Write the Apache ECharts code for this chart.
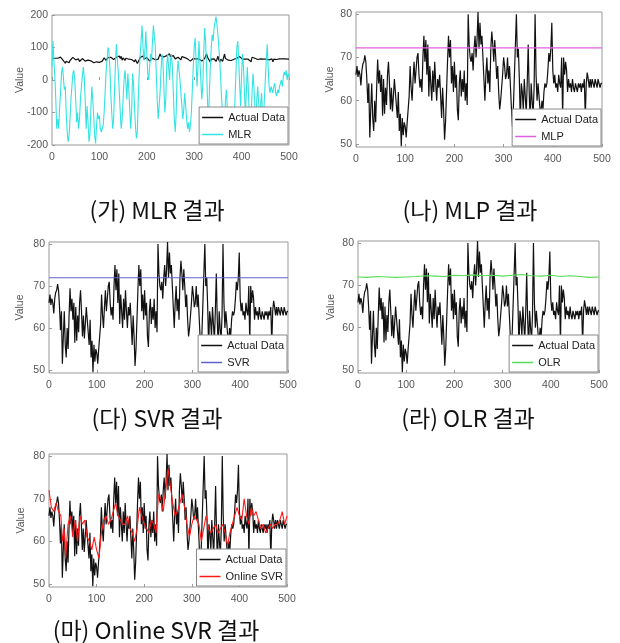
<!DOCTYPE html>
<html><head><meta charset="utf-8">
<script src="https://cdn.jsdelivr.net/npm/echarts@6/dist/echarts.min.js"></script>
<style>html,body{margin:0;padding:0;background:#fff}#c{width:620px;height:643px}</style>
</head><body><div id="c"></div>
<script>
// Actual data (x, value)
const actualData = [[0,66],[2,68],[4,65.5],[6,67],[8,66],[10,63.5],[12,67],[14,68.5],[16,69],[18,70.5],[20,69],[22,65],[24,59.5],[26,64],[28,51.5],[30,58],[32,64],[34,56],[36,53],[38,60],[40,55],[42,63],[44,69.5],[46,64],[48,67],[50,62],[52,66],[54,56.5],[56,65],[58,57],[60,63],[62,59],[64,66],[66,69],[68,64],[70,58],[72,63],[74,57.5],[76,61],[78,65],[80,62],[82,59],[84,56],[86,62],[88,53],[90,57],[92,49.5],[94,56],[96,52],[98,55],[100,54],[102,51.5],[104,55],[106,58],[108,61],[110,68],[112,63],[114,60],[116,65],[118,69],[120,64],[122,67],[124,70],[126,71],[128,66],[130,63],[132,65],[134,62],[136,70],[138,75],[140,69],[142,74],[144,66],[146,73],[148,61],[150,68],[152,64],[154,60],[156,67],[158,62],[160,69],[162,64],[164,60],[166,65],[168,63],[170,66],[172,61],[174,56],[176,63],[178,58],[180,51],[182,55],[184,62],[186,69],[188,75],[190,70],[192,74],[194,64],[196,68],[198,62],[200,69],[202,63],[204,66],[206,58],[208,55.5],[210,64],[212,67],[214,61],[216,65],[218,62],[220,67],[222,60],[224,64],[226,59],[228,80],[230,73],[232,70],[234,69],[236,71],[238,67],[240,72],[242,75],[244,70],[246,74],[248,80.5],[250,72],[252,78],[254,73],[256,75],[258,70],[260,65],[262,60],[264,66],[266,70],[268,64],[270,67],[272,62],[274,72],[276,76],[278,73],[280,69],[282,74],[284,70],[286,65],[288,68],[290,62],[292,58],[294,60],[296,63],[298,66],[300,70],[302,68],[304,65],[306,66],[308,70],[310,65],[312,68],[314,63],[316,58],[318,54],[320,59],[322,66],[324,73],[326,80],[328,70],[330,72],[332,65],[334,55],[336,64],[338,62],[340,58],[342,65],[344,61],[346,57],[348,64],[350,73],[352,62],[354,55],[356,64],[358,60],[360,57],[362,63],[364,80],[366,66],[368,60],[370,64],[372,61],[374,58],[376,57.5],[378,60],[380,58],[382,62],[384,64],[386,63],[388,64],[390,67],[392,71],[394,69],[396,72],[398,78],[400,67],[402,64],[404,66],[406,63],[408,64],[410,62],[412,66],[414,64],[416,63],[418,70],[420,56],[422,70],[424,66],[426,69],[428,67],[430,62],[432,65],[434,63],[436,64],[438,62],[440,65],[442,63],[444,62],[446,64],[448,63],[450,62],[452,64],[454,63],[456,64],[458,62],[460,64],[462,63],[464,65],[466,56],[468,64],[470,66.5],[472,65],[474,63],[476,65],[478,63],[480,65],[482,64],[484,63],[486,65],[488,64],[490,63],[492,65],[494,64],[496,63],[498,64],[500,64]];

const mlrData = [[0,40],[2,120],[4,60],[6,10],[8,-60],[10,-150],[12,-120],[14,-150],[16,-90],[18,-40],[20,20],[22,40],[24,10],[26,-30],[28,-20],[30,-100],[32,-160],[34,-190],[36,-170],[38,-120],[40,-60],[42,-20],[44,20],[46,30],[48,0],[50,-60],[52,-130],[54,-100],[56,-150],[58,-120],[60,-60],[62,-20],[64,10],[66,40],[68,10],[70,-60],[72,-150],[74,-80],[76,-130],[78,-190],[80,-170],[82,-90],[84,-20],[86,-60],[88,-110],[90,-170],[92,-195],[94,-140],[96,-100],[98,-120],[100,-110],[102,-150],[104,-160],[106,-165],[108,-140],[110,-100],[112,-40],[114,20],[116,60],[118,100],[120,90],[122,40],[124,-40],[126,-100],[128,-150],[130,-120],[132,-30],[134,60],[136,110],[138,60],[140,20],[142,-40],[144,-100],[146,-150],[148,-120],[150,-60],[152,0],[154,30],[156,-10],[158,-60],[160,20],[162,-30],[164,-90],[166,-150],[168,-100],[170,20],[172,-10],[174,-80],[176,-140],[178,-180],[180,-160],[182,-60],[184,20],[186,80],[188,120],[190,168],[192,100],[194,60],[196,90],[198,150],[200,80],[202,20],[204,0],[206,40],[208,80],[210,60],[212,120],[214,168],[216,165],[218,100],[220,20],[222,-60],[224,-120],[226,-80],[228,-40],[230,30],[232,80],[234,60],[236,-20],[238,-100],[240,-60],[242,40],[244,80],[246,40],[248,0],[250,60],[252,80],[254,40],[256,-40],[258,-120],[260,-160],[262,-100],[264,20],[266,60],[268,30],[270,0],[272,-40],[274,-80],[276,-120],[278,-90],[280,-40],[282,-80],[284,-120],[286,-150],[288,-130],[290,-160],[292,-140],[294,-100],[296,-30],[298,40],[300,100],[302,130],[304,60],[306,-20],[308,40],[310,120],[312,60],[314,0],[316,-60],[318,-20],[320,80],[322,160],[324,120],[326,40],[328,-60],[330,-150],[332,-40],[334,40],[336,100],[338,140],[340,120],[342,160],[344,180],[346,195],[348,170],[350,140],[352,100],[354,60],[356,0],[358,-60],[360,-120],[362,-180],[364,-140],[366,-60],[368,-30],[370,-90],[372,-170],[374,-190],[376,-150],[378,-90],[380,-140],[382,-190],[384,-150],[386,-60],[388,20],[390,100],[392,120],[394,60],[396,-20],[398,-80],[400,20],[402,80],[404,40],[406,-40],[408,-100],[410,-40],[412,40],[414,-20],[416,-100],[418,-180],[420,-120],[422,-40],[424,20],[426,-20],[428,-80],[430,-140],[432,-60],[434,-20],[436,-70],[438,-120],[440,-80],[442,-40],[444,-90],[446,-130],[448,-60],[450,0],[452,60],[454,110],[456,40],[458,-20],[460,-40],[462,-20],[464,-30],[466,-40],[468,-20],[470,-10],[472,-40],[474,-50],[476,-30],[478,-40],[480,-20],[482,-10],[484,0],[486,-20],[488,10],[490,25],[492,15],[494,30],[496,0],[498,20],[500,10]];

const mlpData = [[0,72.2],[500,72.2]];
const svrData = [[0,72.0],[500,72.0]];
const olrData = [[0,72.0],[20,71.9],[40,72.1],[60,72.0],[80,71.9],[100,72.0],[120,72.1],[140,72.3],[160,72.2],[180,72.1],[200,72.4],[220,72.3],[240,72.5],[260,72.3],[280,72.4],[300,72.2],[320,72.4],[340,72.6],[360,72.3],[380,72.2],[400,72.4],[420,72.1],[440,72.3],[460,72.1],[480,71.9],[500,72.0]];

const onlineSvrData = [[0,72],[5,68],[10,67],[15,69],[20,67],[25,66],[28,60],[32,63],[35,56],[40,64],[45,66],[50,61],[55,65],[60,60],[65,66],[70,64],[75,65],[80,61],[85,60],[90,58],[95,61],[100,58],[105,56],[110,62],[115,65],[120,66],[125,64],[130,65],[135,67],[140,69],[145,66],[150,65],[155,64],[160,64],[165,66],[170,63],[175,62],[180,60],[185,63],[190,68],[195,66],[200,64],[205,63],[210,62],[215,65],[220,64],[225,62],[230,71],[235,70],[240,67],[245,72],[250,77],[255,73],[260,69],[265,66],[270,67],[275,69],[280,71],[285,68],[290,64],[295,61],[300,64],[305,66],[310,65],[315,64],[320,60],[325,63],[330,66],[335,63],[340,62],[345,63],[350,64],[355,62],[360,63],[365,64],[370,62],[375,59],[380,62],[385,64],[390,66],[395,68],[400,66],[405,65],[410,70],[415,66],[420,64],[425,68],[430,66],[435,67],[440,65],[445,63],[450,64],[455,62],[460,63],[465,64],[470,63],[475,64],[480,64],[485,65],[490,67],[495,64],[500,66]];

const xTicks = [0,100,200,300,400,500];
const yTicksMLR = [-200,-100,0,100,200];
const yTicksVal = [50,60,70,80];
const captions = ['(가) MLR 결과','(나) MLP 결과','(다) SVR 결과','(라) OLR 결과','(마) Online SVR 결과'];

const panels = [
  {name:'MLR', data:mlrData, color:'#33e3e3', box:[52,15,237,130], y:[-200,200], ticks:yTicksMLR, cap:[157,210], gap:26},
  {name:'MLP', data:mlpData, color:'#e060e0', box:[356,12,246,135], y:[49.3,80.5], ticks:yTicksVal, cap:[470,210], gap:20},
  {name:'SVR', data:svrData, color:'#6060d0', box:[49,242,239,131], y:[49.3,80.5], ticks:yTicksVal, cap:[157,418], gap:23},
  {name:'OLR', data:olrData, color:'#55dd55', box:[358,241,241,132], y:[49.3,80.5], ticks:yTicksVal, cap:[468,418], gap:21},
  {name:'Online SVR', data:onlineSvrData, color:'#ff1a1a', box:[49,454,238,133], y:[49.3,80.5], ticks:yTicksVal, cap:[156,630], gap:22}
];

const grid=[], xAxis=[], yAxis=[], series=[], legend=[], graphic=[];
const lab = {color:'#555', fontSize:10.5, fontFamily:'Liberation Sans, Arial, sans-serif'};
panels.forEach((p,i)=>{
  const [l,t,w,h]=p.box;
  grid.push({left:l, top:t, width:w, height:h, show:true, borderColor:'#999', borderWidth:1, backgroundColor:'#fff'});
  xAxis.push({type:'value', gridIndex:i, min:0, max:500, interval:100,
    axisLine:{show:false}, splitLine:{show:false},
    axisTick:{inside:true, length:3, lineStyle:{color:'#999'}, customValues:xTicks},
    axisLabel:Object.assign({margin:7, customValues:xTicks}, lab)});
  yAxis.push({type:'value', gridIndex:i, min:p.y[0], max:p.y[1],
    name:'Value', nameLocation:'middle', nameRotate:90, nameGap:p.gap, nameMoveOverlap:false,
    nameTextStyle:{color:'#555', fontSize:10.5, fontFamily:'Liberation Sans, Arial, sans-serif'},
    axisLine:{show:false}, splitLine:{show:false},
    axisTick:{inside:true, length:3, lineStyle:{color:'#999'}, customValues:p.ticks},
    axisLabel:Object.assign({margin:4, customValues:p.ticks}, lab)});
  series.push({type:'line', name:'Actual Data', xAxisIndex:i, yAxisIndex:i, data:actualData,
    showSymbol:false, symbol:'none', lineStyle:{color:'#111', width:1.2}, itemStyle:{color:'#111'}, z:2, silent:true, animation:false});
  series.push({type:'line', name:p.name, xAxisIndex:i, yAxisIndex:i, data:p.data,
    showSymbol:false, symbol:'none', lineStyle:{color:p.color, width:1.1}, itemStyle:{color:p.color}, z:3, silent:true, animation:false});
  legend.push({data:['Actual Data', p.name], orient:'vertical', right:620-(l+w)+1, bottom:643-(t+h)+1,
    backgroundColor:'#fff', borderColor:'#888', borderWidth:1, borderRadius:0,
    padding:[5,3,4,3], itemGap:6, itemWidth:21, itemHeight:1.5, icon:'rect', selectedMode:false,
    textStyle:{color:'#222', fontSize:11, fontFamily:'Liberation Sans, Arial, sans-serif'}, z:10});
  graphic.push({type:'text', x:p.cap[0], y:p.cap[1], style:{text:captions[i], fill:'#111',
    font:'23px "Noto Sans CJK KR", sans-serif', textAlign:'center', textVerticalAlign:'middle'}, z:20});
});

const chart = echarts.init(document.getElementById('c'), null, {renderer:'canvas'});
chart.setOption({animation:false, grid, xAxis, yAxis, series, legend, graphic});
</script></body></html>
